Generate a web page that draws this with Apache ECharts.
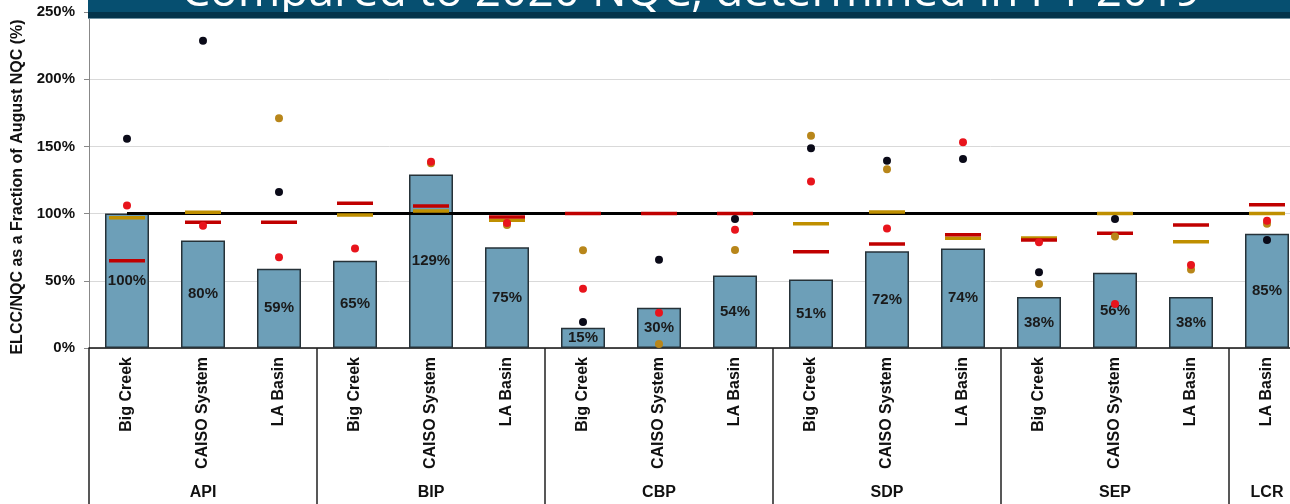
<!DOCTYPE html>
<html>
<head>
<meta charset="utf-8">
<script src="https://cdn.jsdelivr.net/npm/echarts@6/dist/echarts.min.js"></script>
<style>
  html, body { margin: 0; padding: 0; background: #fff; }
  #chart { width: 1290px; height: 504px; }
</style>
</head>
<body>
<div id="chart"></div>
<script>
const categories = [
    'Big Creek', 'CAISO System', 'LA Basin',
    'Big Creek', 'CAISO System', 'LA Basin',
    'Big Creek', 'CAISO System', 'LA Basin',
    'Big Creek', 'CAISO System', 'LA Basin',
    'Big Creek', 'CAISO System', 'LA Basin',
    'LA Basin'
];
const groupNames = ['API', 'BIP', 'CBP', 'SDP', 'SEP', 'LCR'];
const groupSizes = [3, 3, 3, 3, 3, 1];

// bar = ELCC/NQC (%)
const barValues = [100, 80, 59, 65, 129, 75, 15, 30, 54, 51, 72, 74, 38, 56, 38, 85];
const redDash = [65, 93.5, 93.5, 107.7, 105.7, 97.5, 100, 100, 100, 71.7, 77.4, 84.3, 80.4, 85.3, 91.5, 106.6];
const goldDash = [97, 101, null, 99, 102, 95, null, null, null, 92.5, 101.2, 81.6, 81.8, 100, 79, 100];
const redDot = [106, 91, 67.5, 74, 138.6, 93, 44, 26.3, 88, 123.8, 89, 153, 78.6, 32.7, 61.8, 94.7];
const goldDot = [null, null, 171, null, 137.4, 91.5, 72.7, 3, 73, 158, 133, null, 47.6, 83, 58.5, 92.5];
const blackDot = [155.7, 228.7, 116, null, null, null, 19.3, 65.7, 96, 148.6, 139.4, 140.6, 56.3, 96, null, 80.4];
const refLine = categories.map(() => 100);

const yTicks = [0, 50, 100, 150, 200, 250];

const titleText = 'Compared to 2020 NQC, determined in PY 2019';
const FONT = '"Liberation Sans", Arial, sans-serif';

// group boundaries and label positions
const groupStarts = [];
const groupMiddles = {};
let acc = 0;
groupSizes.forEach((n, i) => {
    groupStarts.push(acc);
    groupMiddles[acc + Math.floor(n / 2)] = groupNames[i];
    acc += n;
});

const chart = echarts.init(document.getElementById('chart'));

function dash(name, data, color) {
    return {
        name, type: 'scatter', data, z: 4,
        symbol: 'rect', symbolSize: [36, 3.5],
        itemStyle: { color, opacity: 1 }
    };
}

function dot(name, data, color) {
    return {
        name, type: 'scatter', data, z: 5,
        symbol: 'circle', symbolSize: 8,
        itemStyle: { color, opacity: 1 }
    };
}

chart.setOption({
    animation: false,
    grid: { left: 89, width: 1216, top: 12, bottom: 156, outerBoundsMode: 'none', containLabel: false },
    xAxis: [{
        type: 'category',
        data: categories,
        axisLine: { lineStyle: { color: '#111', width: 1.5 } },
        axisTick: { show: false },
        axisLabel: {
            interval: 0, rotate: 90, margin: 9,
            fontFamily: FONT, fontWeight: 'bold', fontSize: 16, color: '#111'
        }
    }, {
        type: 'category',
        data: categories,
        position: 'bottom',
        axisLine: { show: false },
        axisTick: {
            show: true, length: 160,
            interval: (i) => groupStarts.indexOf(i) >= 0,
            lineStyle: { color: '#222', width: 1.5 }
        },
        axisLabel: {
            interval: (i) => groupMiddles[i] !== undefined,
            formatter: (v, i) => groupMiddles[i] || '',
            margin: 137,
            fontFamily: FONT, fontWeight: 'bold', fontSize: 16, color: '#111'
        }
    }],
    yAxis: {
        type: 'value', min: 0, max: 250, interval: 50,
        name: 'ELCC/NQC as a Fraction of August NQC (%)',
        nameLocation: 'middle', nameGap: 63,
        nameTextStyle: {
            fontFamily: FONT, fontWeight: 'bold', fontSize: 16, color: '#111',
            padding: [0, 14, 0, 0]
        },
        axisLine: { show: true, lineStyle: { color: '#888', width: 1 } },
        axisTick: { show: true, length: 5, lineStyle: { color: '#888' } },
        axisLabel: {
            formatter: (v) => yTicks.indexOf(v) >= 0 ? v + '%' : '',
            margin: 14,
            fontFamily: FONT, fontWeight: 'bold', fontSize: 15, color: '#111'
        },
        splitLine: { lineStyle: { color: '#d9d9d9', width: 1 } }
    },
    series: [{
        name: 'ELCC/NQC', type: 'bar', data: barValues, barWidth: 44, z: 2,
        itemStyle: { color: '#6d9fb8', borderColor: '#263238', borderWidth: 1.5 },
        label: {
            show: true, position: 'inside', formatter: '{c}%',
            fontFamily: FONT, fontWeight: 'bold', fontSize: 15, color: '#1a1a1a'
        }
    }, {
        name: '100%', type: 'line', data: refLine, z: 3,
        symbol: 'none', lineStyle: { color: '#000', width: 3 }
    },
        dash('gold dash', goldDash, '#bf8f00'),
        dash('red dash', redDash, '#c00000'),
        dot('gold dot', goldDot, '#b8861a'),
        dot('red dot', redDot, '#e8141c'),
        dot('black dot', blackDot, '#0a0a18')
    ],
    graphic: [{
        type: 'rect', z: 100,
        shape: { x: 88, y: 0, width: 1202, height: 13 },
        style: { fill: '#064f70' }
    }, {
        type: 'rect', z: 100,
        shape: { x: 88, y: 13, width: 1202, height: 5 },
        style: { fill: '#03344b' }
    }, {
        type: 'rect', z: 100,
        shape: { x: 88, y: 18, width: 1202, height: 1 },
        style: { fill: '#6f93a3' }
    }, {
        type: 'text', z: 101,
        x: 691, y: 16,
        style: {
            text: titleText, fill: '#fff',
            font: '46px "Open Sans", "Noto Sans", sans-serif',
            align: 'center', verticalAlign: 'bottom'
        }
    }, {
        // hide the part of the title that falls onto the dark strip
        type: 'rect', z: 102,
        shape: { x: 88, y: 12, width: 1202, height: 6 },
        style: { fill: '#03344b' }
    }]
});
</script>
</body>
</html>
